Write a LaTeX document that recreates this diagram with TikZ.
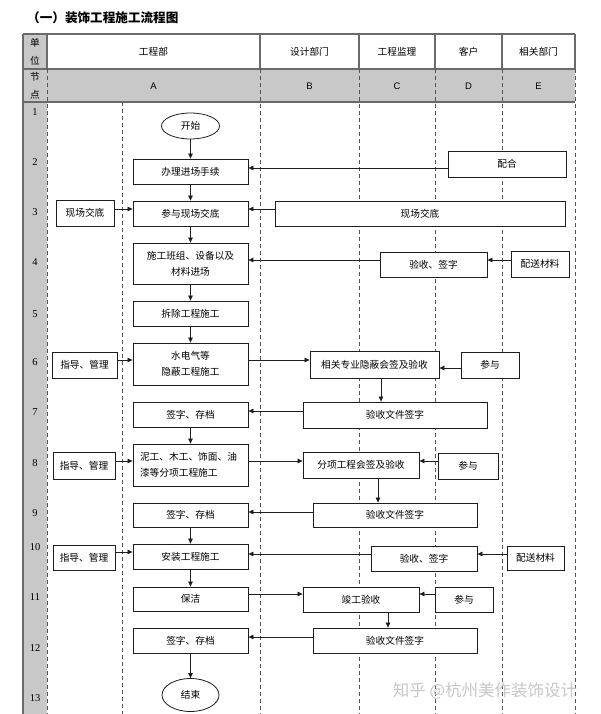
\documentclass[tikz,border=0pt]{standalone}
\usepackage{fontspec}
\setmainfont{Noto Sans CJK SC}
\newfontfamily\numfont{Liberation Serif}
\newfontfamily\latfont{Liberation Sans}
\usetikzlibrary{arrows.meta,shapes.geometric}
\definecolor{cellgray}{HTML}{C8C8C8}
\definecolor{rulegray}{HTML}{6A6A6A}
\definecolor{dashgray}{HTML}{555555}
\definecolor{ink}{HTML}{1E1E1E}
\begin{document}
\begin{tikzpicture}[x=1pt,y=-1pt,
  tablerule/.style={draw=rulegray,line width=1.2pt},
  dashline/.style={draw=dashgray,line width=0.9pt,dash pattern=on 4pt off 3pt},
  txt/.style={font=\fontsize{9.7}{16}\selectfont,inner sep=0pt},
  box/.style={draw=ink,line width=0.8pt,fill=white,inner sep=0pt,align=center,
              font=\fontsize{9.7}{16}\selectfont},
  oval/.style={draw=ink,line width=0.8pt,fill=white,ellipse,inner sep=0pt,
              font=\fontsize{9.7}{16}\selectfont},
  arr/.style={draw=ink,line width=0.7pt,-{Triangle[length=5pt,width=4.5pt]}},
  rownum/.style={font=\numfont\fontsize{10.5}{10}\selectfont,inner sep=0pt},
  letter/.style={font=\latfont\fontsize{9.5}{10}\selectfont,inner sep=0pt}
]
\useasboundingbox (0,0) rectangle (600,714);
\fill[white] (0,0) rectangle (600,714);

% title
\node[anchor=west,inner sep=0pt,font=\bfseries\fontsize{12.6}{13}\selectfont] (title) at (27,18) {（一）装饰工程施工流程图};

% table background
\fill[cellgray] (23,34) rectangle (47,714);
\fill[cellgray] (47,69) rectangle (575,102);

% rules
\draw[tablerule] (23,34) -- (575,34);
\draw[tablerule] (23,69) -- (575,69);
\draw[tablerule] (23,102) -- (575,102);
\draw[tablerule] (23,34) -- (23,714);
\foreach \xx in {47,260,359,435,502,575} {
  \draw[tablerule] (\xx,34) -- (\xx,69);
  \draw[dashline] (\xx,69) -- (\xx,714);
}
\draw[dashline] (122,102) -- (122,714);

% header texts
\node[txt] (h1a) at (35,43) {单};
\node[txt] (h1b) at (35,61) {位};
\node[txt] (h2a) at (35,77) {节};
\node[txt] (h2b) at (35,95) {点};
\node[txt] (hA) at (153.5,52) {工程部};
\node[txt] (hB) at (309.5,52) {设计部门};
\node[txt] (hC) at (397,52) {工程监理};
\node[txt] (hD) at (468.5,52) {客户};
\node[txt] (hE) at (538.5,52) {相关部门};
\node[letter] (lA) at (153.5,86) {A};
\node[letter] (lB) at (309.5,86) {B};
\node[letter] (lC) at (397,86) {C};
\node[letter] (lD) at (468.5,86) {D};
\node[letter] (lE) at (538.5,86) {E};

% row numbers
\foreach \n/\yy in {1/112,2/162,3/212,4/262,5/314,6/362,7/412,8/463,9/513,10/547,11/597,12/648,13/698} {
  \node[rownum] (r\n) at (35,\yy) {\n};
}

% main column
\node[oval,minimum width=58pt,minimum height=26pt] (start) at (190.5,126) {开始};
\node[box,minimum width=115pt,minimum height=25pt] (banli) at (190.5,171.5) {办理进场手续};
\node[box,minimum width=115pt,minimum height=25pt] (canyu) at (190.5,213.5) {参与现场交底};
\node[box,minimum width=115pt,minimum height=41pt] (shigong) at (190.5,263.5) {施工班组、设备以及\\材料进场};
\node[box,minimum width=115pt,minimum height=25pt] (chaichu) at (190.5,313.5) {拆除工程施工};
\node[box,minimum width=115pt,minimum height=42pt] (shuidian) at (190.5,364) {水电气等\\隐蔽工程施工};
\node[box,minimum width=115pt,minimum height=25pt] (qz7) at (190.5,414.5) {签字、存档};
\node[box,minimum width=115pt,minimum height=42pt,align=left,text width=101pt] (nigong) at (190.5,465) {泥工、木工、饰面、油\\漆等分项工程施工};
\node[box,minimum width=115pt,minimum height=24pt] (qz9) at (190.5,515) {签字、存档};
\node[box,minimum width=115pt,minimum height=25pt] (anzhuang) at (190.5,556.5) {安装工程施工};
\node[box,minimum width=115pt,minimum height=24pt] (baojie) at (190.5,599) {保洁};
\node[box,minimum width=115pt,minimum height=25pt] (qz12) at (190.5,640.5) {签字、存档};
\node[oval,minimum width=57pt,minimum height=33pt] (end) at (190.5,695) {结束};

% left column
\node[box,minimum width=58pt,minimum height=26pt] (l3) at (85,213) {现场交底};
\node[box,minimum width=65pt,minimum height=26pt] (l6) at (84.5,365) {指导、管理};
\node[box,minimum width=62pt,minimum height=27pt] (l8) at (84,465.5) {指导、管理};
\node[box,minimum width=62pt,minimum height=25pt] (l10) at (84,557.5) {指导、管理};

% right side
\node[box,minimum width=118pt,minimum height=26pt] (peihe) at (507,164) {配合};
\node[box,minimum width=290pt,minimum height=25pt] (xc3) at (420,213.5) {现场交底};
\node[box,minimum width=107pt,minimum height=25pt] (ys4) at (433.5,264.5) {验收、签字};
\node[box,minimum width=58pt,minimum height=26pt] (ps4) at (540,264) {配送材料};
\node[box,minimum width=129pt,minimum height=27pt] (xg6) at (374.5,364.5) {相关专业隐蔽会签及验收};
\node[box,minimum width=58pt,minimum height=26pt] (cy6) at (490,365) {参与};
\node[box,minimum width=184pt,minimum height=26pt] (ysw7) at (395,415) {验收文件签字};
\node[box,minimum width=116pt,minimum height=26pt] (fx8) at (361,465) {分项工程会签及验收};
\node[box,minimum width=60pt,minimum height=26pt] (cy8) at (468,466) {参与};
\node[box,minimum width=164pt,minimum height=24pt] (ysw9) at (395,515) {验收文件签字};
\node[box,minimum width=106pt,minimum height=25pt] (ys10) at (424,558.5) {验收、签字};
\node[box,minimum width=57pt,minimum height=24pt] (ps10) at (535.5,558) {配送材料};
\node[box,minimum width=116pt,minimum height=25pt] (jg11) at (361,599.5) {竣工验收};
\node[box,minimum width=58pt,minimum height=25pt] (cy11) at (464,599.5) {参与};
\node[box,minimum width=164pt,minimum height=25pt] (ysw12) at (395,640.5) {验收文件签字};

% watermark
\node[inner sep=0pt,text=black!22,font=\fontsize{16.5}{17}\selectfont] (wm) at (485,691) {知乎 @杭州美作装饰设计};

% main vertical arrows
\draw[arr] (start.south) -- (banli.north);
\draw[arr] (banli.south) -- (canyu.north);
\draw[arr] (canyu.south) -- (shigong.north);
\draw[arr] (shigong.south) -- (chaichu.north);
\draw[arr] (chaichu.south) -- (shuidian.north);
\draw[arr] (qz7.south) -- (nigong.north);
\draw[arr] (qz9.south) -- (anzhuang.north);
\draw[arr] (anzhuang.south) -- (baojie.north);
\draw[arr] (qz12.south) -- (end.north);

% left arrows
\coordinate (a3) at ([yshift=4pt]l3.east);
\draw[arr] (a3) -- (a3 -| canyu.west);
\coordinate (a6) at ([yshift=5pt]l6.east);
\draw[arr] (a6) -- (a6 -| shuidian.west);
\coordinate (a8) at ([yshift=4.5pt]l8.east);
\draw[arr] (a8) -- (a8 -| nigong.west);
\coordinate (a10) at ([yshift=5.5pt]l10.east);
\draw[arr] (a10) -- (a10 -| anzhuang.west);

% right arrows
\coordinate (b2) at ([yshift=-4pt]peihe.west);
\draw[arr] (b2) -- (b2 -| banli.east);
\coordinate (b3) at ([yshift=4.5pt]xc3.west);
\draw[arr] (b3) -- (b3 -| canyu.east);
\coordinate (b4) at ([yshift=4.5pt]ys4.west);
\draw[arr] (b4) -- (b4 -| shigong.east);
\coordinate (c4) at ([yshift=4pt]ps4.west);
\draw[arr] (c4) -- (c4 -| ys4.east);

\coordinate (b6) at ([yshift=4pt]shuidian.east);
\draw[arr] (b6) -- (b6 -| xg6.west);
\coordinate (c6) at ([yshift=-3pt]cy6.west);
\draw[arr] (c6) -- (c6 -| xg6.east);
\coordinate (d6) at ([xshift=6.5pt]xg6.south);
\draw[arr] (d6) -- (d6 |- ysw7.north);
\coordinate (b7) at ([yshift=4pt]ysw7.west);
\draw[arr] (b7) -- (b7 -| qz7.east);

\coordinate (b8) at ([yshift=4pt]nigong.east);
\draw[arr] (b8) -- (b8 -| fx8.west);
\coordinate (c8) at ([yshift=5pt]cy8.west);
\draw[arr] (c8) -- (c8 -| fx8.east);
\coordinate (d8) at ([xshift=17pt]fx8.south);
\draw[arr] (d8) -- (d8 |- ysw9.north);
\coordinate (b9) at ([yshift=3pt]ysw9.west);
\draw[arr] (b9) -- (b9 -| qz9.east);

\coordinate (b10) at ([yshift=4.5pt]ys10.west);
\draw[arr] (b10) -- (b10 -| anzhuang.east);
\coordinate (c10) at ([yshift=4pt]ps10.west);
\draw[arr] (c10) -- (c10 -| ys10.east);

\coordinate (b11) at ([yshift=5pt]baojie.east);
\draw[arr] (b11) -- (b11 -| jg11.west);
\coordinate (c11) at ([yshift=5.5pt]cy11.west);
\draw[arr] (c11) -- (c11 -| jg11.east);
\coordinate (d11) at ([xshift=27pt]jg11.south);
\draw[arr] (d11) -- (d11 |- ysw12.north);
\coordinate (b12) at ([yshift=3.5pt]ysw12.west);
\draw[arr] (b12) -- (b12 -| qz12.east);
\end{tikzpicture}
\end{document}
